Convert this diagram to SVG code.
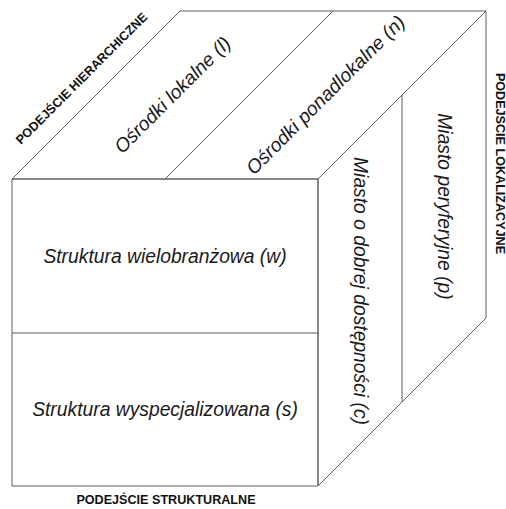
<svg xmlns="http://www.w3.org/2000/svg" width="506" height="509" viewBox="0 0 506 509">
<style>
.edge{fill:none;stroke:#5f5f5f;stroke-width:1;stroke-linejoin:miter}
.cell{font-family:"Liberation Sans",Arial,sans-serif;font-style:italic;font-size:19.3px;fill:#1a1a1a;text-anchor:middle}
.axis{font-family:"Liberation Sans",Arial,sans-serif;font-weight:bold;font-size:12.6px;fill:#111;text-anchor:middle}
</style>
<rect width="506" height="509" fill="#fff"/>
<g id="connectors">
<polygon class="edge" points="12,179 318,179 318,486 12,486"/>
<polygon class="edge" points="12,179 180,11 486,11 318,179"/>
<polygon class="edge" points="318,179 486,11 486,318 318,486"/>
<line class="edge" x1="12" y1="333" x2="318" y2="333"/>
<line class="edge" x1="165" y1="179" x2="333" y2="11"/>
<line class="edge" x1="402" y1="95" x2="402" y2="402"/>
</g>
<g id="w"><text class="cell" x="165" y="262.5">Struktura wielobranżowa (w)</text></g>
<g id="s"><text class="cell" x="165" y="416">Struktura wyspecjalizowana (s)</text></g>
<g id="l"><text class="cell" transform="translate(172.5,95) rotate(-45)" x="0" y="6.5">Ośrodki lokalne (l)</text></g>
<g id="n"><text class="cell" transform="translate(325.5,95) rotate(-45)" x="0" y="6.5">Ośrodki ponadlokalne (n)</text></g>
<g id="c"><text class="cell" transform="translate(360,291) rotate(90)" x="0" y="6.5">Miasto o dobrej dostępności (c)</text></g>
<g id="p"><text class="cell" transform="translate(444,206.5) rotate(90)" x="0" y="6.5">Miasto peryferyjne (p)</text></g>
<g id="hier"><text class="axis" transform="translate(84.5,81.5) rotate(-45)" x="0" y="0">PODEJŚCIE HIERARCHICZNE</text></g>
<g id="lok"><text class="axis" transform="translate(496,163.5) rotate(90)" x="0" y="0">PODEJŚCIE LOKALIZACYJNE</text></g>
<g id="str"><text class="axis" x="166" y="504">PODEJŚCIE STRUKTURALNE</text></g>
</svg>
